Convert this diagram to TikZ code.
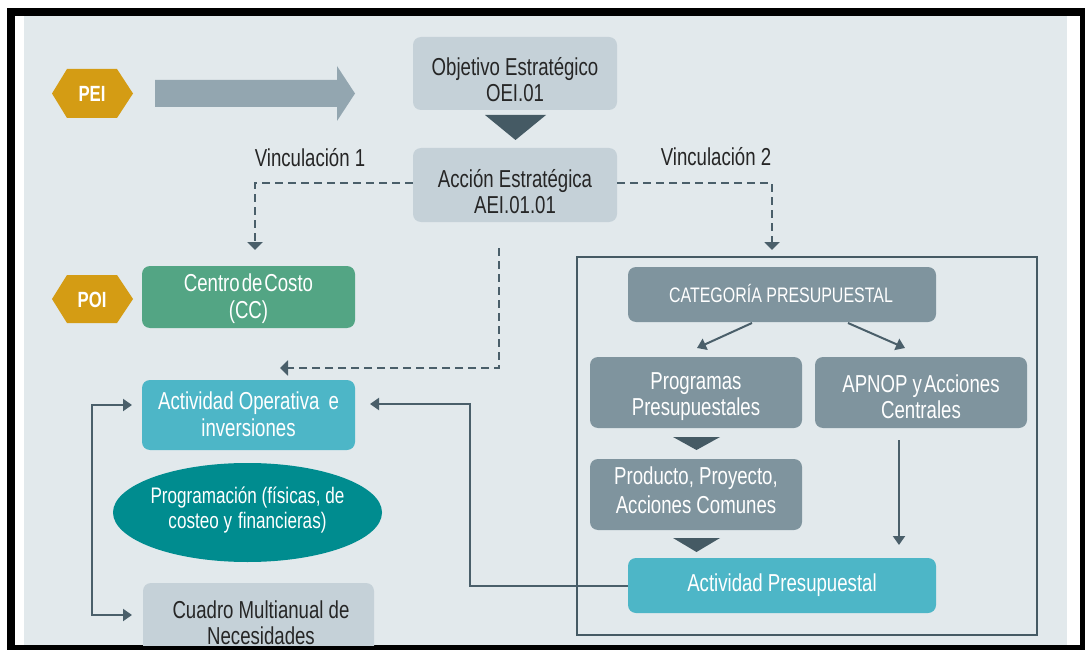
\documentclass[tikz,border=0pt]{standalone}
\usepackage{fontspec}
\setmainfont{Liberation Sans}[FakeStretch=0.76]
\usetikzlibrary{arrows.meta,shapes.geometric}
\definecolor{bg}{HTML}{E2E9EC}
\definecolor{boxlight}{HTML}{C5D1D8}
\definecolor{slate}{HTML}{7F949E}
\definecolor{cyanC}{HTML}{4DB6C7}
\definecolor{greenC}{HTML}{53A584}
\definecolor{tealC}{HTML}{008C8F}
\definecolor{gold}{HTML}{D49C14}
\definecolor{bigarrow}{HTML}{93A6B0}
\definecolor{lineC}{HTML}{4A5F6A}
\definecolor{triC}{HTML}{455A64}
\definecolor{textdark}{HTML}{262626}
\tikzset{
  box/.style={rounded corners=8pt, inner sep=0pt, draw=none},
  lightbox/.style={box, fill=boxlight},
  slatebox/.style={box, fill=slate},
  cyanbox/.style={box, fill=cyanC},
  greenbox/.style={box, fill=greenC},
  txt/.style={align=center, inner sep=0pt, text=textdark, font=\fontsize{24.5}{26.5}\selectfont},
  wtxt/.style={txt, text=white},
  hex/.style={fill=gold},
  hextxt/.style={inner sep=0pt, text=white, font=\fontsize{22}{24}\selectfont\bfseries},
  conn/.style={line width=2pt, draw=lineC, -{Triangle[length=9pt,width=12pt]}},
  dconn/.style={line width=2pt, draw=lineC, dash pattern=on 8pt off 5pt, -{Triangle[length=8pt,width=15pt]}},
  chev/.style={fill=triC}
}
\begin{document}
\begin{tikzpicture}[x=1pt,y=-1pt]
\useasboundingbox (0,0) rectangle (1085,650);
% frame
\fill[black] (7,8) rectangle (1085,650);
\fill[white] (15,16) rectangle (1080,645);
\fill[bg] (24,16) rectangle (1067,645);

% PEI hexagon and big arrow
\fill[hex] (52,93.5) -- (67,69) -- (117,69) -- (133,93.5) -- (117,118) -- (67,118) -- cycle;
\node[hextxt] (pei) at (92,94) {PEI};
\fill[bigarrow] (155,80) -- (337,80) -- (337,66) -- (355,93.5) -- (337,121) -- (337,107) -- (155,107) -- cycle;

% POI hexagon
\fill[hex] (52,299) -- (67,275) -- (117,275) -- (133,299) -- (117,323) -- (67,323) -- cycle;
\node[hextxt] (poi) at (92,299.5) {POI};

% Objetivo / Accion
\node[lightbox, minimum width=204pt, minimum height=73pt] (oei) at (515,73.5) {};
\node[txt] (oeiT) at (515,79.5) {Objetivo Estratégico\\OEI.01};
\fill[chev] (485,115) -- (546,115) -- (515.5,140) -- cycle;
\node[lightbox, minimum width=204pt, minimum height=74pt] (aei) at (515,185) {};
\node[txt] (aeiT) at (515,191.5) {Acción Estratégica\\AEI.01.01};

% labels
\node[txt] (v1) at (310,158) {Vinculación 1};
\node[txt] (v2) at (716,157) {Vinculación 2};

% left column
\node[greenbox, minimum width=213pt, minimum height=62pt] (cc) at (248.5,297) {};
\node[wtxt] (ccT) at (248.5,298.5) {Centro\hspace{2pt}de\hspace{2pt}Costo\\(CC)};
\node[cyanbox, minimum width=213pt, minimum height=70pt] (ao) at (248.5,415) {};
\node[wtxt] (aoT) at (248.5,414) {Actividad Operativa\hspace{9pt}e\\inversiones};
\node[ellipse, fill=tealC, minimum width=269pt, minimum height=99pt, inner sep=0pt] (ell) at (247.5,512.5) {};
\node[wtxt, font=\fontsize{22.5}{25}\selectfont] (ellT) at (247.5,510.5) {Programación (físicas, de\\costeo y\hspace{6pt}financieras)};
\begin{scope}
\clip (24,16) rectangle (1067,645);
\node[lightbox, minimum width=231pt, minimum height=87pt] (cmn) at (258.5,626.5) {};
\end{scope}
\node[txt] (cmnT) at (261,622.5) {Cuadro Multianual de\\Necesidades};

% right frame
\node[draw=triC, line width=1.6pt, minimum width=460pt, minimum height=378pt, inner sep=0pt] (frame) at (807,446) {};
\node[slatebox, minimum width=308pt, minimum height=55pt] (cat) at (782,294.5) {};
\node[wtxt, font=\fontsize{21}{24}\selectfont] (catT) at (781,293.5) {CATEGORÍA PRESUPUESTAL};
\node[slatebox, minimum width=212pt, minimum height=71pt] (prog) at (696,392.5) {};
\node[wtxt] (progT) at (696,396.5) {Programas\\Presupuestales};
\node[slatebox, minimum width=212pt, minimum height=71pt] (apnop) at (921,392.5) {};
\node[wtxt] (apnopT) at (921,396.5) {APNOP y\hspace{2pt}Acciones\\Centrales};
\fill[chev] (673,437) -- (720,437) -- (696.5,450) -- cycle;
\node[slatebox, minimum width=212pt, minimum height=71pt] (prod) at (696,494.5) {};
\node[wtxt, font=\fontsize{24.5}{29}\selectfont] (prodT) at (696,490) {Producto, Proyecto,\\Acciones Comunes};
\fill[chev] (673,538) -- (720,538) -- (696.5,552) -- cycle;
\node[cyanbox, minimum width=308pt, minimum height=55pt] (ap) at (782,585.5) {};
\node[wtxt] (apT) at (782,585) {Actividad Presupuestal};

% coordinates
\coordinate (v1end) at (255,250);
\coordinate (v2end) at (772,250);
\coordinate (d1) at (499,248);
\coordinate (d2) at (280,368);
\coordinate (aoin) at (132,405);
\coordinate (cmnin) at (132,615);
\coordinate (brtop) at (92,405);
\coordinate (brbot) at (92,615);
\coordinate (apbend) at (470,585.5);
\coordinate (aoright) at (370,404);
\coordinate (catL) at (752,323);
\coordinate (progtop) at (697,348);
\coordinate (catR) at (848,323);
\coordinate (apnoptop) at (905,348);
\coordinate (apnopbot) at (899,440);
\coordinate (aptop) at (899,545);

% dashed connectors
\draw[dconn] (aei.west |- 0,183) -| (v1end);
\draw[dconn] (aei.east |- 0,183) -| (v2end);
\draw[dconn] (d1) |- (d2);

% solid connectors
\draw[conn, {Triangle[length=9pt,width=12pt]}-{Triangle[length=9pt,width=12pt]}] (aoin) -- (brtop) -- (brbot) -- (cmnin);
\draw[conn] (ap.west) -- (apbend) |- (aoright);
\draw[conn] (catL) -- (progtop);
\draw[conn] (catR) -- (apnoptop);
\draw[conn] (apnopbot) -- (aptop);
\end{tikzpicture}
\end{document}
